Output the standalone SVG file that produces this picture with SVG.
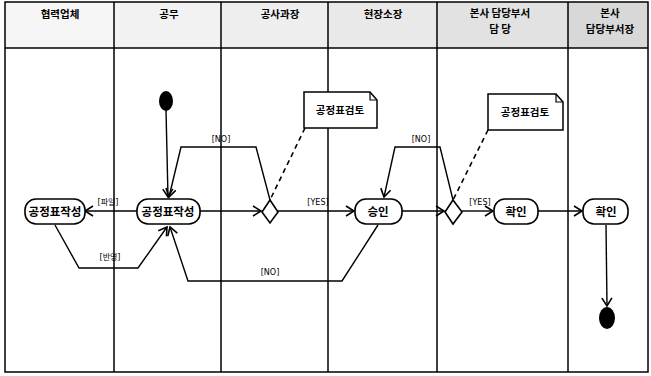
<svg xmlns="http://www.w3.org/2000/svg" width="651" height="376" viewBox="0 0 651 376">
<defs>
<style>
.lane{fill:none;stroke:#000;stroke-width:1.5}
.hdr{font-family:"Noto Sans CJK KR","Noto Sans",sans-serif;font-size:10.5px;font-weight:bold;text-anchor:middle;fill:#000}
.node rect{fill:#fff;stroke:#000;stroke-width:1.6}
.node text{font-family:"Noto Sans CJK KR","Noto Sans",sans-serif;font-size:11.5px;font-weight:bold;text-anchor:middle;fill:#000}
.edge{fill:none;stroke:#000;stroke-width:1.4}
.dash{fill:none;stroke:#000;stroke-width:1.6;stroke-dasharray:5 4}
.lbl{font-family:"DejaVu Sans","Noto Sans CJK KR",sans-serif;font-size:8px;fill:#000;text-anchor:middle}
.note{fill:#fff;stroke:#000;stroke-width:1.5}
.dot{fill:#000}
</style>
<marker id="arr" markerWidth="12" markerHeight="12" refX="10" refY="6" orient="auto" markerUnits="userSpaceOnUse">
<polyline points="2,1 10,6 2,11" fill="none" stroke="#000" stroke-width="1.6"/>
</marker>
</defs>
<rect width="651" height="376" fill="#fff"/>
<g id="header">
<rect x="5" y="2" width="109" height="46" fill="#f6f6f6"/>
<rect x="114" y="2" width="107" height="46" fill="#f2f2f2"/>
<rect x="221" y="2" width="107" height="46" fill="#eeeeee"/>
<rect x="328" y="2" width="109" height="46" fill="#e9e9e9"/>
<rect x="437" y="2" width="131" height="46" fill="#e2e2e2"/>
<rect x="568" y="2" width="80" height="46" fill="#d8d8d8"/>
<text class="hdr" x="60" y="18">협력업체</text>
<text class="hdr" x="169" y="18">공무</text>
<text class="hdr" x="280" y="18">공사과장</text>
<text class="hdr" x="383" y="18">현장소장</text>
<text class="hdr" x="500" y="17">본사 담당부서</text>
<text class="hdr" x="500" y="33">담  당</text>
<text class="hdr" x="610" y="17">본사</text>
<text class="hdr" x="610" y="33">담당부서장</text>
</g>
<g id="lanes">
<rect class="lane" x="5" y="2" width="643" height="370"/>
<line class="lane" x1="5" y1="48" x2="648" y2="48"/>
<line class="lane" x1="114" y1="2" x2="114" y2="372"/>
<line class="lane" x1="221" y1="2" x2="221" y2="372"/>
<line class="lane" x1="328" y1="2" x2="328" y2="372"/>
<line class="lane" x1="437" y1="2" x2="437" y2="372"/>
<line class="lane" x1="568" y1="2" x2="568" y2="372"/>
</g>
<g id="connectors">
<path class="edge" d="M166,110 L168,197" marker-end="url(#arr)"/>
<path class="edge" d="M137,211 L85,211" marker-end="url(#arr)"/>
<text class="lbl" x="108" y="205">[파일]</text>
<path class="edge" d="M55,225 L79,268 L138,268 L167,227" marker-end="url(#arr)"/>
<text class="lbl" x="110" y="260">[반영]</text>
<path class="edge" d="M200,211 L261,211" marker-end="url(#arr)"/>
<path class="edge" d="M270,200 L256,147 L181,147 L169,197" marker-end="url(#arr)"/>
<text class="lbl" x="221" y="142">[NO]</text>
<path class="edge" d="M278,211 L354,211" marker-end="url(#arr)"/>
<text class="lbl" x="318" y="205">[YES]</text>
<path class="edge" d="M378,225 L342,281 L188,281 L170,227" marker-end="url(#arr)"/>
<text class="lbl" x="270" y="275">[NO]</text>
<path class="edge" d="M402,211 L444,211" marker-end="url(#arr)"/>
<path class="edge" d="M453,200 L440,147 L395,147 L384,197" marker-end="url(#arr)"/>
<text class="lbl" x="421" y="142">[NO]</text>
<path class="edge" d="M462,211 L493,211" marker-end="url(#arr)"/>
<text class="lbl" x="480" y="205">[YES]</text>
<path class="edge" d="M538,211 L582,211" marker-end="url(#arr)"/>
<path class="edge" d="M606,225 L607,306" marker-end="url(#arr)"/>
<path class="dash" d="M305,128 L270,200"/>
<path class="dash" d="M488,130 L453,200"/>
</g>
<g id="start"><ellipse class="dot" cx="166" cy="101" rx="7" ry="10"/></g>
<g id="end"><ellipse class="dot" cx="607" cy="318" rx="8" ry="11"/></g>
<g id="n-partner" class="node"><rect x="25" y="199" width="60" height="25" rx="11"/><text x="55" y="216">공정표작성</text></g>
<g id="n-gongmu" class="node"><rect x="137" y="199" width="63" height="25" rx="11"/><text x="168" y="216">공정표작성</text></g>
<g id="d1"><polygon points="270,200 278,212 270,223 262,212" fill="#fff" stroke="#000" stroke-width="1.6"/></g>
<g id="note1"><path class="note" d="M304,92 L370,92 L377,100 L377,128 L304,128 Z"/><path d="M370,92 L370,100 L377,100" fill="none" stroke="#000" stroke-width="1.2"/><text class="hdr" x="340" y="114">공정표검토</text></g>
<g id="n-approve" class="node"><rect x="355" y="199" width="47" height="25" rx="11"/><text x="378" y="216">승인</text></g>
<g id="d2"><polygon points="453,200 462,212 453,224 445,212" fill="#fff" stroke="#000" stroke-width="1.6"/></g>
<g id="note2"><path class="note" d="M488,94 L556,94 L563,102 L563,130 L488,130 Z"/><path d="M556,94 L556,102 L563,102" fill="none" stroke="#000" stroke-width="1.2"/><text class="hdr" x="525" y="116">공정표검토</text></g>
<g id="n-check1" class="node"><rect x="494" y="199" width="44" height="25" rx="11"/><text x="516" y="216">확인</text></g>
<g id="n-check2" class="node"><rect x="583" y="199" width="45" height="25" rx="11"/><text x="606" y="216">확인</text></g>
</svg>
